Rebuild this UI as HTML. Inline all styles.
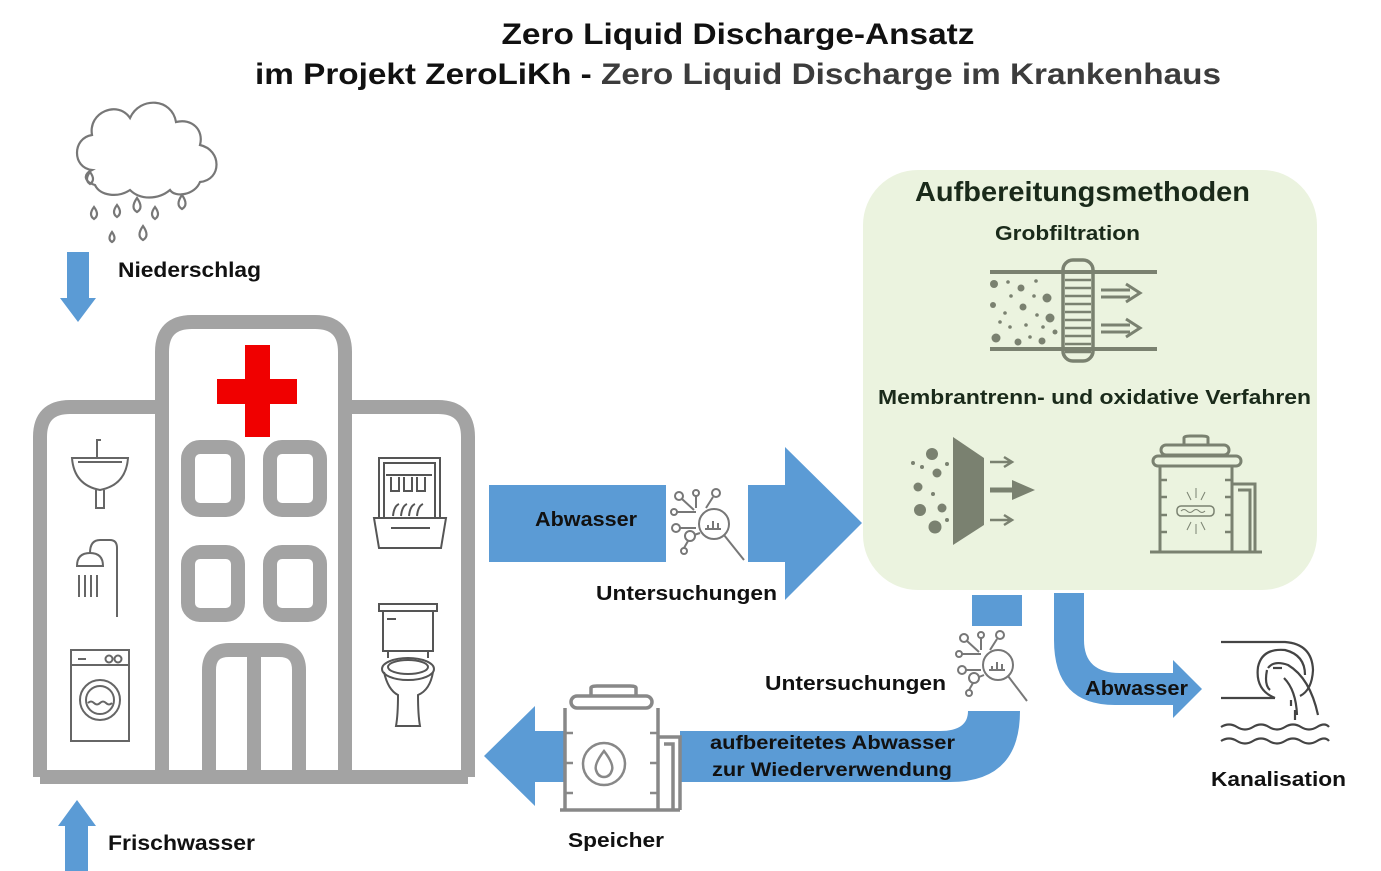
<!DOCTYPE html>
<html><head><meta charset="utf-8"><style>
html,body{margin:0;padding:0;background:#fff;}
svg{display:block;font-family:"Liberation Sans",Arial,sans-serif;font-weight:bold;}
</style></head><body>
<svg width="1381" height="871" viewBox="0 0 1381 871" xmlns="http://www.w3.org/2000/svg">
<!-- Title -->
<text x="738" y="44" font-size="30" text-anchor="middle" textLength="473" lengthAdjust="spacingAndGlyphs" fill="#111">Zero Liquid Discharge-Ansatz</text>
<text x="255" y="84" font-size="30" textLength="966" lengthAdjust="spacingAndGlyphs" fill="#111">im Projekt ZeroLiKh - <tspan fill="#3c3c3c">Zero Liquid Discharge im Krankenhaus</tspan></text>

<!-- Cloud -->
<g fill="none" stroke="#777" stroke-width="2.2">
<path d="M92 170 C72 168 72 138 92 135 C88 112 118 100 130 118 C140 96 172 98 176 122 C192 118 204 130 200 145 C222 150 222 180 200 182 C195 195 175 198 170 190 C158 200 140 200 130 190 C118 198 100 196 95 185 C85 182 82 175 92 170 Z"/>
<path d="M94 207 q-6 8 0 12 q6 -4 0 -12z"/>
<path d="M117 205 q-6 8 0 12 q6 -4 0 -12z"/>
<path d="M137 198 q-7 10 0 14 q7 -4 0 -14z"/>
<path d="M155 207 q-6 8 0 12 q6 -4 0 -12z"/>
<path d="M112 232 q-5 7 0 10 q5 -3 0 -10z"/>
<path d="M143 226 q-7 10 0 14 q7 -4 0 -14z"/>
<path d="M182 195 q-7 10 0 14 q7 -4 0 -14z"/>
<path d="M90 172 q-6 8 0 12 q6 -4 0 -12z"/>
</g>

<!-- Niederschlag arrow -->
<path d="M67 252 H89 V298 H96 L78 322 L60 298 H67 Z" fill="#5b9bd5"/>
<text x="118" y="277" font-size="21" textLength="143" lengthAdjust="spacingAndGlyphs" fill="#111">Niederschlag</text>

<!-- Building -->
<g fill="none" stroke="#a3a3a3" stroke-width="14">
<path d="M40 777 V437 Q40 407 70 407 H162"/>
<path d="M345 407 H438 Q468 407 468 437 V777"/>
<path d="M40 777 H468"/>
<path d="M162 777 V352 Q162 322 192 322 H315 Q345 322 345 352 V777"/>
<rect x="188" y="447" width="50" height="63" rx="12"/>
<rect x="270" y="447" width="50" height="63" rx="12"/>
<rect x="188" y="552" width="50" height="63" rx="12"/>
<rect x="270" y="552" width="50" height="63" rx="12"/>
<path d="M209 777 V670 Q209 650 229 650 H279 Q299 650 299 670 V777"/>
<path d="M254 650 V777"/>
</g>
<rect x="245" y="345" width="25" height="92" fill="#f00000"/>
<rect x="217" y="379" width="80" height="25" fill="#f00000"/>

<!-- Left wing icons -->
<g fill="none" stroke="#666" stroke-width="2">
<path d="M72 458 H128 Q126 485 100 490 Q74 485 72 458 Z"/>
<path d="M78 462 H122"/>
<path d="M96 490 V508 H104 V490"/>
<path d="M97 458 V440 H101"/>
<path d="M90 553 Q90 540 100 540 H110 Q117 540 117 548 V617"/>
<path d="M77 566 Q77 553 90 553 Q103 553 103 566 Z"/>
<path d="M79 575 V597 M85 575 V597 M91 575 V597 M97 575 V597"/>
<rect x="71" y="650" width="58" height="91"/>
<path d="M71 665 H129 M78 659 H86"/>
<circle cx="109" cy="659" r="3.5"/><circle cx="118" cy="659" r="3.5"/>
<circle cx="100" cy="700" r="20"/><circle cx="100" cy="700" r="14"/>
<path d="M88 703 q3 -3 6 0 q3 3 6 0 q3 -3 6 0 q3 3 6 0"/>
</g>
<!-- Right wing icons -->
<g fill="none" stroke="#555" stroke-width="2">
<rect x="379" y="458" width="61" height="60"/>
<rect x="384" y="463" width="51" height="55"/>
<path d="M374 518 H446 L441 548 H379 Z"/>
<path d="M391 528 H430"/>
<path d="M391 477 v14 h8 v-14 M404 477 v14 h8 v-14 M417 477 v14 h8 v-14 M386 475 H432"/>
<path d="M393 516 q1 -10 6 -12 M401 516 q1 -10 6 -12 M409 516 q1 -10 6 -12 M417 516 q1 -10 6 -12"/>
<rect x="379" y="604" width="58" height="7"/>
<rect x="383" y="611" width="50" height="40"/>
<path d="M387 619 H396"/>
<path d="M388 651 V658 M428 651 V658"/>
<ellipse cx="408" cy="669" rx="26" ry="11"/>
<ellipse cx="408" cy="667" rx="20" ry="7"/>
<path d="M384 672 Q388 690 398 695 Q398 715 396 726 H420 Q418 715 418 695 Q430 690 433 672"/>
</g>

<!-- Frischwasser arrow -->
<path d="M65 871 V826 H58 L77 800 L96 826 H88 V871 Z" fill="#5b9bd5"/>
<text x="108" y="850" font-size="21" textLength="147" lengthAdjust="spacingAndGlyphs" fill="#111">Frischwasser</text>

<!-- Abwasser main arrow -->
<rect x="489" y="485" width="177" height="77" fill="#5b9bd5"/>
<path d="M748 485 H785 V447 L862 523 L785 600 V562 H748 Z" fill="#5b9bd5"/>
<text x="535" y="526" font-size="20" textLength="102" lengthAdjust="spacingAndGlyphs" fill="#111">Abwasser</text>
<text x="596" y="600" font-size="20" textLength="181" lengthAdjust="spacingAndGlyphs" fill="#111">Untersuchungen</text>

<!-- investigation icon 1 -->
<g fill="none" stroke="#777" stroke-width="2" transform="translate(668,488)">
<circle cx="46" cy="36" r="15"/>
<path d="M56 47 L76 72"/>
<path d="M40 40 V37 M45 40 V33 M50 40 V35 M37 41 H53"/>
<circle cx="11" cy="8" r="4"/><circle cx="28" cy="5" r="3"/><circle cx="48" cy="5" r="4"/>
<circle cx="6" cy="24" r="3"/><circle cx="8" cy="40" r="4"/><circle cx="22" cy="48" r="5"/><circle cx="16" cy="63" r="3"/>
<path d="M14 11 L26 22 M28 8 V20 M45 9 L38 20 M9 24 H28 M12 40 L28 40 M16 60 L20 53 M26 47 L32 45"/>
</g>

<!-- Green box -->
<rect x="863" y="170" width="454" height="420" rx="55" fill="#ebf3df"/>
<text x="915" y="201" font-size="28" textLength="335" lengthAdjust="spacingAndGlyphs" fill="#1a2a1a">Aufbereitungsmethoden</text>
<text x="995" y="240" font-size="20" textLength="145" lengthAdjust="spacingAndGlyphs" fill="#1a2a1a">Grobfiltration</text>
<text x="878" y="404" font-size="20" textLength="433" lengthAdjust="spacingAndGlyphs" fill="#1a2a1a">Membrantrenn- und oxidative Verfahren</text>

<!-- Grobfilter icon -->
<g stroke="#7a8170" fill="none" stroke-width="4">
<path d="M990 272 H1157 M990 349 H1157"/>
<rect x="1063" y="260" width="30" height="101" rx="10" stroke-width="3.5"/>
<path d="M1065 272 H1091 M1065 280 H1091 M1065 288 H1091 M1065 296 H1091 M1065 304 H1091 M1065 312 H1091 M1065 320 H1091 M1065 328 H1091 M1065 336 H1091 M1065 344 H1091 M1065 352 H1091" stroke-width="2.5"/>
<path d="M1101 290 H1130 M1101 297 H1130 M1126 284 L1140 293 L1126 302" stroke-width="3"/>
<path d="M1101 325 H1130 M1101 332 H1130 M1126 319 L1140 328 L1126 337" stroke-width="3"/>
</g>
<g fill="#7a8170">
<circle cx="994" cy="284" r="4"/><circle cx="1021" cy="288" r="3.5"/><circle cx="1047" cy="298" r="4.5"/><circle cx="993" cy="305" r="3"/><circle cx="1023" cy="307" r="3.5"/><circle cx="1050" cy="318" r="4.5"/><circle cx="996" cy="338" r="4.5"/><circle cx="1018" cy="342" r="3.5"/><circle cx="1042" cy="341" r="3.5"/><circle cx="1055" cy="332" r="2.5"/>
<circle cx="1008" cy="282" r="1.8"/><circle cx="1036" cy="281" r="1.8"/><circle cx="1011" cy="296" r="1.8"/><circle cx="1034" cy="296" r="1.8"/><circle cx="1005" cy="313" r="1.8"/><circle cx="1037" cy="315" r="1.8"/><circle cx="1010" cy="327" r="1.8"/><circle cx="1026" cy="325" r="1.8"/><circle cx="1043" cy="327" r="1.8"/><circle cx="1000" cy="322" r="1.8"/><circle cx="1030" cy="337" r="1.8"/>
</g>

<!-- Membrane icon -->
<path d="M953 437 L984 458 L984 525 L953 545 Z" fill="#7a8170"/>
<g fill="#7a8170">
<circle cx="932" cy="454" r="6"/><circle cx="937" cy="473" r="4.5"/><circle cx="918" cy="487" r="4.5"/><circle cx="920" cy="510" r="6"/><circle cx="942" cy="508" r="4.5"/><circle cx="935" cy="527" r="6.5"/>
<circle cx="913" cy="463" r="2"/><circle cx="922" cy="467" r="2"/><circle cx="947" cy="464" r="2"/><circle cx="933" cy="494" r="2"/><circle cx="947" cy="520" r="2"/>
<path d="M1012 480 L1035 490 L1012 500 Z"/>
</g>
<g stroke="#7a8170" fill="none">
<path d="M990 462 H1010 M1004 457 L1012 462 L1004 467" stroke-width="2.5"/>
<path d="M990 490 H1015" stroke-width="5"/>
<path d="M990 520 H1010 M1004 515 L1012 520 L1004 525" stroke-width="2.5"/>
</g>

<!-- UV tank icon -->
<g fill="none" stroke="#7a8170" stroke-width="3">
<path d="M1184 445 V438 Q1184 436 1190 436 H1202 Q1208 436 1208 438 V445"/>
<rect x="1161" y="445" width="68" height="10" rx="5"/>
<rect x="1153" y="456" width="88" height="10" rx="5"/>
<path d="M1160 466 V552 M1232 466 V552 M1150 552 H1262"/>
<path d="M1232 484 H1255 V552 M1238 490 H1250 V552"/>
<path d="M1160 480 H1167 M1160 497 H1167 M1160 515 H1167 M1160 532 H1167 M1232 480 H1225 M1232 497 H1225 M1232 515 H1225 M1232 532 H1225" stroke-width="2.5"/>
<rect x="1177" y="506" width="37" height="10" rx="4" stroke-width="1.5"/>
<path d="M1181 511 q3 -3 6 0 q3 3 6 0 q3 -3 6 0 q3 3 6 0" stroke-width="1"/>
<path d="M1196 488 V498 M1187 492 L1191 500 M1205 492 L1201 500 M1196 524 V534 M1187 530 L1191 522 M1205 530 L1201 522" stroke-width="1"/>
</g>

<!-- bottom return flow -->
<rect x="972" y="595" width="50" height="31" fill="#5b9bd5"/>
<path d="M680 782 H950 Q1020 782 1020 711 H968 Q968 731 940 731 H680 Z" fill="#5b9bd5"/>
<path d="M565 731 H535 V706 L484 756 L535 806 V782 H565 Z" fill="#5b9bd5"/>
<text x="710" y="749" font-size="19" textLength="245" lengthAdjust="spacingAndGlyphs" fill="#111">aufbereitetes Abwasser</text>
<text x="712" y="776" font-size="19" textLength="240" lengthAdjust="spacingAndGlyphs" fill="#111">zur Wiederverwendung</text>
<text x="765" y="690" font-size="20" textLength="181" lengthAdjust="spacingAndGlyphs" fill="#111">Untersuchungen</text>

<!-- investigation icon 2 -->
<g fill="none" stroke="#777" stroke-width="2" transform="translate(954,630)">
<circle cx="44" cy="35" r="15"/>
<path d="M54 46 L73 71"/>
<path d="M38 39 V36 M43 39 V32 M48 39 V34 M35 40 H51"/>
<circle cx="10" cy="8" r="4"/><circle cx="27" cy="5" r="3"/><circle cx="46" cy="5" r="4"/>
<circle cx="5" cy="24" r="3"/><circle cx="8" cy="40" r="4"/><circle cx="20" cy="48" r="5"/><circle cx="15" cy="63" r="3"/>
<path d="M13 11 L25 22 M27 8 V20 M43 9 L36 20 M8 24 H27 M12 40 L27 40 M15 60 L19 53 M25 47 L30 45"/>
</g>

<!-- Storage tank -->
<g fill="none" stroke="#888" stroke-width="3.5">
<path d="M591 695 V688 Q591 686 597 686 H630 Q636 686 636 688 V695"/>
<rect x="571" y="696" width="81" height="12" rx="6"/>
<path d="M565 708 V810 M658 708 V810 M560 810 H680"/>
<path d="M658 737 H680 V810 M664 744 H673 V810"/>
<path d="M565 733 H573 M565 763 H573 M565 793 H573 M658 733 H650 M658 763 H650 M658 793 H650" stroke-width="2.5"/>
<circle cx="604" cy="764" r="21" stroke-width="2.5"/>
<path d="M604 751 Q594 764 596 770 Q598 777 604 777 Q610 777 612 770 Q614 764 604 751 Z" stroke-width="2.5"/>
</g>
<text x="568" y="847" font-size="20" textLength="96" lengthAdjust="spacingAndGlyphs" fill="#111">Speicher</text>

<!-- right Abwasser flow -->
<path d="M1054 593 V640 Q1054 705 1115 705 H1173 V718 L1202 689 L1173 660 V673 H1120 Q1084 673 1084 640 V593 Z" fill="#5b9bd5"/>
<text x="1085" y="695" font-size="20" textLength="103" lengthAdjust="spacingAndGlyphs" fill="#111">Abwasser</text>

<!-- Kanalisation icon -->
<g fill="none" stroke="#444" stroke-width="2.2">
<path d="M1221 642 H1285 Q1312 644 1313 670 Q1312 690 1300 696"/>
<path d="M1221 698 H1275"/>
<path d="M1275 698 Q1255 690 1258 667 Q1262 648 1285 650 Q1305 655 1305 675"/>
<path d="M1268 668 Q1274 660 1288 665 Q1310 678 1318 715 M1284 678 Q1296 690 1297 715 M1267 670 Q1264 685 1270 690 M1295 710 V720 M1291 700 V706"/>
<path d="M1273 668 H1282"/>
<path d="M1221 727 q8 -5 16 0 q8 5 16 0 q8 -5 16 0 q8 5 16 0 q8 -5 16 0 q8 5 16 0 q8 -5 12 0"/>
<path d="M1221 741 q8 -5 16 0 q8 5 16 0 q8 -5 16 0 q8 5 16 0 q8 -5 16 0 q8 5 16 0 q8 -5 12 0"/>
</g>
<text x="1211" y="786" font-size="20" textLength="135" lengthAdjust="spacingAndGlyphs" fill="#111">Kanalisation</text>
</svg>
</body></html>
